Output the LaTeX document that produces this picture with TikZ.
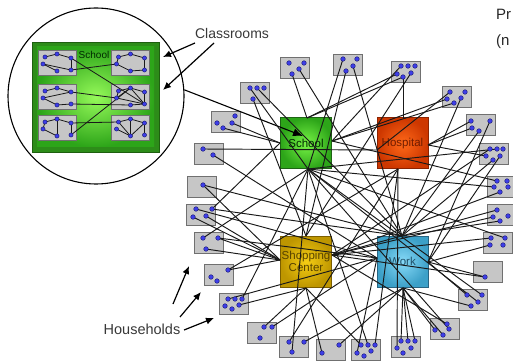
\documentclass[tikz,border=0pt]{standalone}
\usepackage{fontspec}
\setmainfont{Liberation Sans}
\usetikzlibrary{arrows.meta}
\definecolor{boxfill}{RGB}{198,198,198}
\definecolor{boxborder}{RGB}{112,112,112}
\definecolor{dotblue}{RGB}{62,62,232}
\definecolor{dotedge}{RGB}{25,25,110}
\definecolor{schin}{RGB}{120,245,70}
\definecolor{schout}{RGB}{45,165,25}
\definecolor{schedge}{RGB}{30,100,20}
\definecolor{hosin}{RGB}{255,105,25}
\definecolor{hosout}{RGB}{205,55,0}
\definecolor{hosedge}{RGB}{140,35,0}
\definecolor{shoin}{RGB}{245,205,20}
\definecolor{shoout}{RGB}{190,150,0}
\definecolor{shoedge}{RGB}{125,95,0}
\definecolor{worin}{RGB}{135,218,248}
\definecolor{worout}{RGB}{60,160,200}
\definecolor{woredge}{RGB}{40,100,130}
\definecolor{bigout}{RGB}{45,140,25}
\definecolor{bigedge}{RGB}{30,95,15}
\definecolor{bigin}{RGB}{150,250,90}
\begin{document}
\begin{tikzpicture}[x=1pt,y=-1pt,
 hbox/.style={draw=boxborder, fill=boxfill, line width=0.9pt, minimum width=29pt, minimum height=21pt, inner sep=0pt},
 cbox/.style={draw=boxborder, fill=boxfill, line width=0.8pt, minimum width=38pt, minimum height=25pt, inner sep=0pt},
 hdot/.style={circle, fill=dotblue, draw=dotedge, line width=0.4pt, inner sep=0pt, minimum size=4.6pt},
 cdot/.style={hdot, minimum size=4.2pt},
 link/.style={draw=black!90, line width=0.95pt},
 clink/.style={draw=black!90, line width=0.8pt},
 place/.style={minimum width=51pt, minimum height=51pt, inner sep=0pt, line width=1pt, font=\fontsize{11.5}{12}\selectfont, align=center},
 callout/.style={draw=black, line width=1.1pt, -{Latex[length=10pt,width=8pt]}},
 pointer/.style={draw=black, line width=1.2pt, -{Latex[length=8pt,width=7pt]}},
 lbl/.style={font=\fontsize{14}{15}\selectfont, text=black!78, inner sep=0pt}
]
\useasboundingbox (0,0) rectangle (513,363);

% ---------- zoomed school ----------
\node[circle, draw=black, line width=1.1pt, minimum size=176pt, inner sep=0pt] (zoomc) at (96,96) {};
\node[draw=bigedge, fill=bigout, line width=0.8pt, minimum width=127pt, minimum height=110pt, inner sep=0pt] (bigschool) at (95.5,97) {};
\node[shading=radial, inner color=bigin, outer color=schout, minimum width=117pt, minimum height=100pt, inner sep=0pt] (bigschoolin) at (95.5,97) {};
\node[font=\fontsize{10}{11}\selectfont, text=black!60!green!40!black, inner sep=0pt] (bigschoollbl) at (94,55) {School};

\foreach \c/\cx/\cy in {TL/57/62.5, TR/130.5/62.5, ML/57/96.5, MR/130.5/96.5, BL/57/127.5, BR/130.5/127.5} {
  \node[cbox] (\c) at (\cx,\cy) {};
  \foreach \d/\dx/\dy in {a/0/-8.5, b/-12/-5.5, c/14/-4.5, d/-14/1.5, e/0/8.5, f/14/7.5}
    \coordinate (\c\d) at (\cx+\dx,\cy+\dy);
}
\foreach \p/\q in {TLb/TLa, TLa/TLc, TLc/TLf, TLd/TLf, TLd/TLe,
  TRb/TRa, TRa/TRc, TRc/TRf, TRf/TRe, TRe/TRd, TRd/TRb,
  MLb/MLa, MLa/MLc, MLd/MLc, MLd/MLe, MLe/MLf,
  MRb/MRa, MRa/MRc, MRc/MRf, MRa/MRf, MRb/MRd, MRd/MRf, MRa/MRd, MRe/MRf,
  BLb/BLa, BLa/BLe, BLa/BLc, BLc/BLf, BLb/BLd, BLd/BLe,
  BRb/BRa, BRa/BRe, BRb/BRe, BRc/BRe, BRc/BRf, BRd/BRe, BRa/BRc,
  TLc/MRf, TLf/TRd, MLc/MRd, MLf/MRe, BLf/MRa, BLc/BRb}
  \draw[clink] (\p) -- (\q);
\foreach \c in {TL,TR,ML,MR,BL,BR}
  \foreach \d in {a,b,c,d,e,f}
    \node[cdot] (\c\d-dot) at (\c\d) {};

% ---------- labels and pointers ----------
\node[lbl] (classlbl) at (232,33) {Classrooms};
\coordinate (cla1s) at (195,43); \coordinate (cla1e) at (163,57);
\coordinate (cla2s) at (214,43); \coordinate (cla2e) at (163,90);
\draw[pointer] (cla1s) -- (cla1e);
\draw[pointer] (cla2s) -- (cla2e);

\node[lbl, font=\fontsize{14.5}{15}\selectfont] (houselbl) at (142,329) {Households};
\coordinate (hoa1s) at (184,330); \coordinate (hoa1e) at (214,318);
\coordinate (hoa2s) at (180,317); \coordinate (hoa2e) at (201,292);
\coordinate (hoa3s) at (173,304); \coordinate (hoa3e) at (189,266);
\draw[pointer] (hoa1s) -- (hoa1e);
\draw[pointer] (hoa2s) -- (hoa2e);
\draw[pointer] (hoa3s) -- (hoa3e);

\node[font=\fontsize{15}{16}\selectfont, text=black!85, anchor=west, inner sep=0pt] (prlbl) at (496,14) {Pr};
\node[font=\fontsize{15}{16}\selectfont, text=black!85, anchor=west, inner sep=0pt] (nlbl) at (496,42) {(n};

% ---------- households ----------
\foreach \n/\x/\y in {h1/294.5/68, h2/348/65, h3/406/72, h4/255/93, h5/456.5/96.5,
  h6/226/122, h7/481/125, h8/208.5/153.5, h9/494/153.5, h10/201.5/186.5,
  h11/502/186.5, h12/201/214.5, h13/502/214.5, h14/208.5/243, h15/498/243,
  h16/219/275, h17/488/272, h18/233.5/303.5, h19/473/300, h20/262/332.5,
  h21/445/328.5, h22/294/346.5, h23/330.5/350, h24/366/350, h25/405.5/346.5}
  \node[hbox] (\n) at (\x,\y) {};

\foreach \n/\x/\y in {
  h1a/289/63, h1b/304/63, h1c/292/74, h1d/299/69,
  h2a/343/59, h2b/357/59, h2c/346/71, h2d/353/66,
  h3a/401/66, h3b/408/66, h3c/415/66, h3d/397/74, h3e/403/77, h3f/411/73,
  h4a/250/88, h4b/257/88, h4c/264/88, h4d/253/99,
  h5a/450/92, h5b/465/92, h5c/447/99, h5d/454/103, h5e/461/98,
  h6a/235/116, h6b/217/123, h6c/223/128, h6d/232/123,
  h7a/471/121, h7b/490/121, h7c/472/128, h7d/479/131,
  h8a/203/149, h8b/213/155,
  h9a/490/149, h9b/497/149, h9c/503/149, h9d/486/156, h9e/493/160, h9f/500/156,
  h10a/203/185,
  h11a/497/181, h11b/507/181, h11c/494/187, h11d/500/192, h11e/508/187,
  h12a/196/209, h12b/212/209, h12c/193/217, h12d/206/216,
  h13a/497/210, h13b/493/217, h13c/500/221, h13d/508/216,
  h14a/203/238, h14b/218/238, h14c/206/249,
  h15a/491/238, h15b/505/238, h15c/490/245, h15d/503/245,
  h16a/228/270, h16b/211/277, h16c/217/281,
  h17a/485/277,
  h18a/228/299, h18b/235/299, h18c/242/299, h18d/225/306, h18e/232/309, h18f/239/305,
  h19a/467/295, h19b/482/295, h19c/471/306, h19d/478/302,
  h20a/264/327, h20b/272/327, h20c/260/338,
  h21a/435/330, h21b/447/324, h21c/443/335, h21d/449/329,
  h22a/289/342, h22b/304/342, h22c/292/352,
  h23a/339/345, h23b/322/353,
  h24a/361/345, h24b/368/345, h24c/375/345, h24d/357/353, h24e/364/356, h24f/371/351,
  h25a/401/341, h25b/408/341, h25c/415/341, h25d/397/348, h25e/403/353, h25f/411/348}
  \coordinate (\n) at (\x,\y);

% ---------- places ----------
\node[place, draw=schedge, shading=radial, inner color=schin, outer color=schout, text=black!55!green!35!black] (school) at (306,143.5) {School};
\node[place, draw=hosedge, shading=radial, inner color=hosin, outer color=hosout, text=hosedge!80!black] (hospital) at (402.5,143.5) {Hospital};
\node[place, draw=shoedge, shading=radial, inner color=shoin, outer color=shoout, text=shoedge!70!black] (shopping) at (306,261.5) {Shopping\\Center};
\node[place, draw=woredge, shading=radial, inner color=worin, outer color=worout, text=woredge!80!black] (work) at (402.5,261.5) {Work};

\coordinate (sT) at (307,118); \coordinate (sB) at (308,169); \coordinate (sL) at (280,143); \coordinate (sR) at (332,141);
\coordinate (hT) at (403,118); \coordinate (hR) at (428,145); \coordinate (hB) at (398,169); \coordinate (hL) at (377,150);
\coordinate (pT) at (306,236); \coordinate (pL) at (280,260); \coordinate (pB) at (306,288); \coordinate (pR) at (332,255);
\coordinate (wT) at (402,236); \coordinate (wB) at (403,288); \coordinate (wL) at (377,258); \coordinate (wR) at (428,262);
\coordinate (schoolin) at (303,136);

\draw[callout] (zoomc.4.5) -- (schoolin);

% ---------- links ----------
\foreach \p/\q in {h1c/sT, h1d/wT, h2c/pT, h2d/wT,
  h3d/sT, h3e/sT, h3e/hT, h3f/pT,
  h4d/pT, h4b/wT, h5c/sR, h5d/sR, h5e/wT,
  h6d/sL, h6c/sL, h7a/hR, h7c/hR, h7d/wT, h7b/wR,
  h8b/wL, h9d/hR, h9b/sB, h9e/wT, h9a/pR,
  h10a/pL, h10a/wT, h11c/sB, h11d/pR,
  h12b/sL, h12d/pL, h12c/pL, h12a/wL,
  h13b/pR, h13c/wT,
  h14b/pL, h14c/pL, h14a/sB, h14b/wL,
  h15c/wR, h15a/pR, h16a/pL, h17a/wR,
  h18c/sB, h18f/pB, h19a/wR, h19c/wB, h19d/sB,
  h21a/wB, h21c/wB, h21b/pR, h21d/sB,
  h25a/wB, h25b/wB, h25c/wB, h25d/hB,
  h24a/pB, h24b/sB, h24c/hB,
  h23a/wB, h23b/pB, h22b/wB, h22a/hB,
  h20a/pB, h20b/wL, h8a/hL, h16a/hB,
  h3a/sR, h4a/sB, h9f/wR, h11a/sR, h13a/pR, h15b/sB, h17a/pR,
  h19b/sB, h24d/wL, h22c/sB, h18a/wL, h12b/wT, h5a/hL, h2a/sB}
  \draw[link] (\p) -- (\q);

% ---------- dots ----------
\foreach \n in {h1a,h1b,h1c,h1d, h2a,h2b,h2c,h2d, h3a,h3b,h3c,h3d,h3e,h3f,
  h4a,h4b,h4c,h4d, h5a,h5b,h5c,h5d,h5e, h6a,h6b,h6c,h6d, h7a,h7b,h7c,h7d,
  h8a,h8b, h9a,h9b,h9c,h9d,h9e,h9f, h10a, h11a,h11b,h11c,h11d,h11e,
  h12a,h12b,h12c,h12d, h13a,h13b,h13c,h13d, h14a,h14b,h14c,
  h15a,h15b,h15c,h15d, h16a,h16b,h16c, h17a,
  h18a,h18b,h18c,h18d,h18e,h18f, h19a,h19b,h19c,h19d, h20a,h20b,h20c,
  h21a,h21b,h21c,h21d, h22a,h22b,h22c, h23a,h23b,
  h24a,h24b,h24c,h24d,h24e,h24f, h25a,h25b,h25c,h25d,h25e,h25f}
  \node[hdot] (\n-dot) at (\n) {};
\end{tikzpicture}
\end{document}
